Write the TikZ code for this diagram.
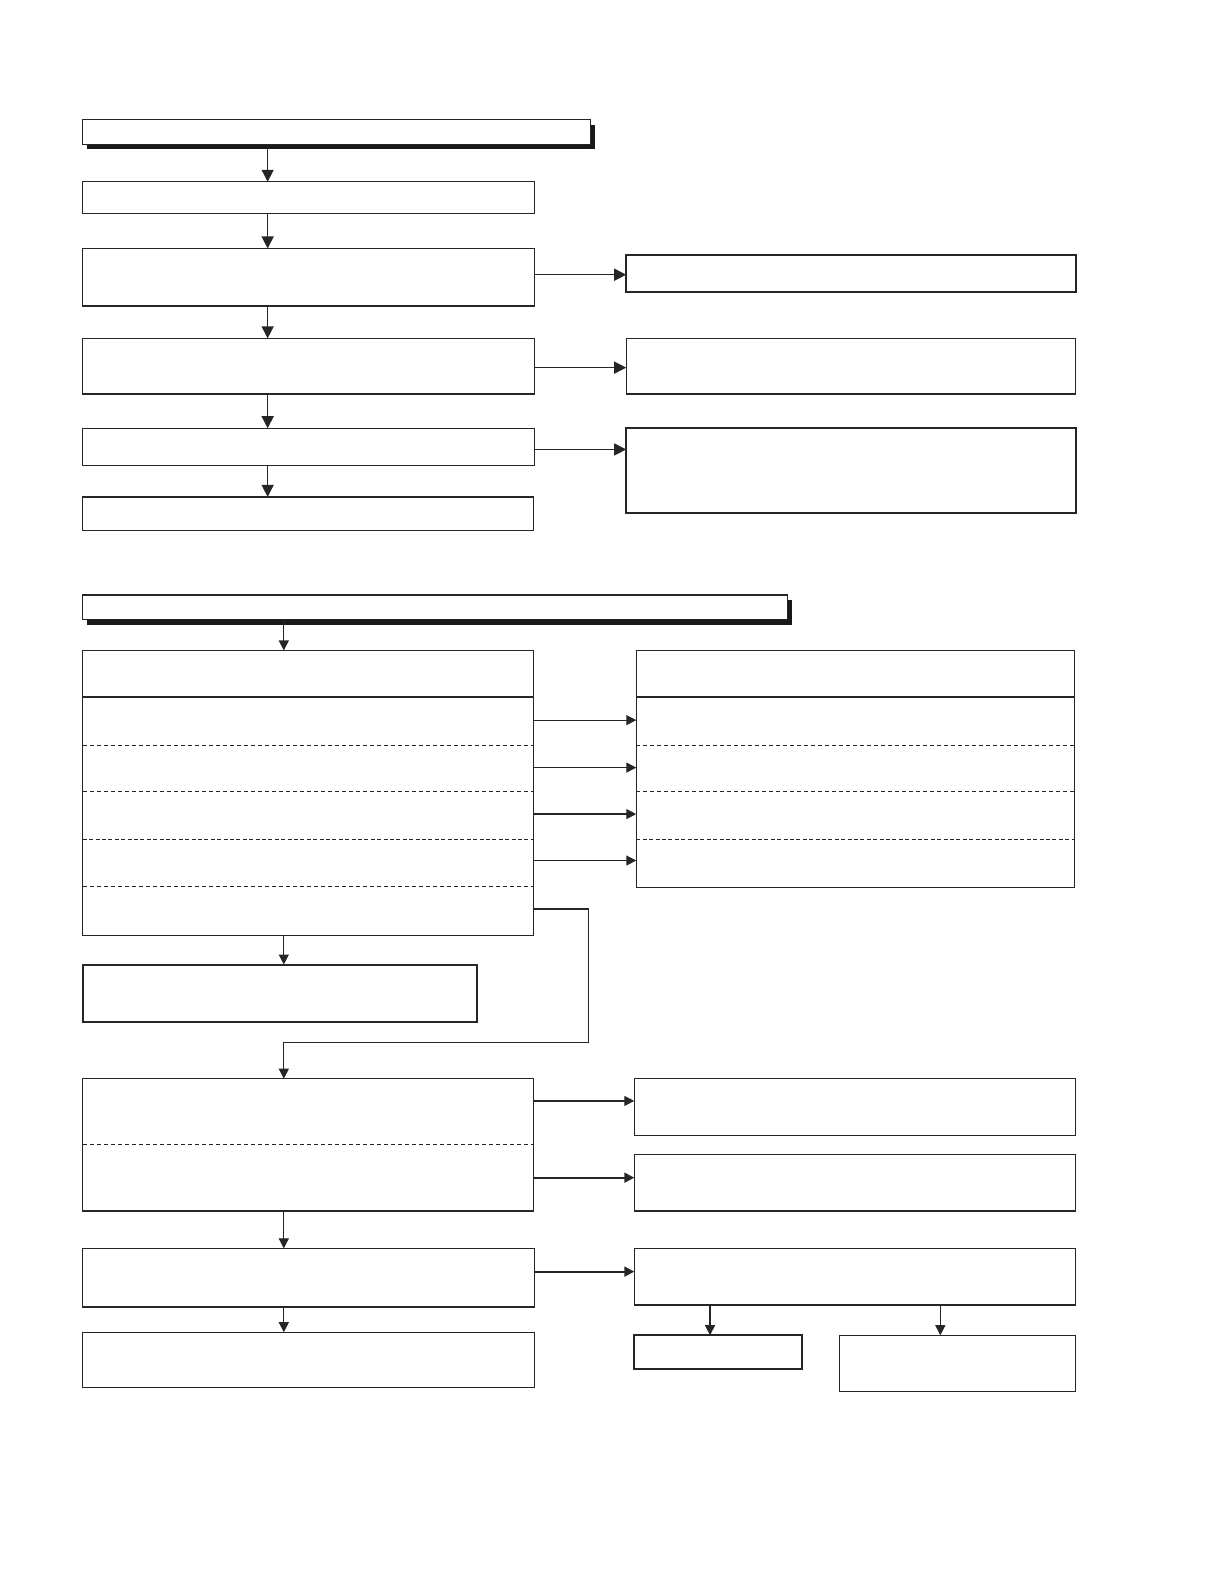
\documentclass[tikz,border=0pt]{standalone}
\usetikzlibrary{arrows.meta,calc}
\newcommand{\mybox}[6]{\node[#6,minimum width={(#4-#2)*0.505pt},minimum height={(#5-#3)*0.505pt}] (#1) at ({(#2+#4)/2},{(#3+#5)/2}) {};}
\tikzset{
  box/.style={draw=black!85,line width=0.6pt,fill=white,inner sep=0pt,outer sep=0pt,rectangle},
  thickbox/.style={box,line width=1pt},
  arr/.style={draw=black!85,line width=0.7pt,-{Triangle[length=6pt,width=6pt]}},
  arrs/.style={draw=black!85,line width=0.6pt,-{Triangle[length=5pt,width=5pt]}},
  arrb/.style={draw=black!85,line width=1pt,-{Triangle[length=5pt,width=5pt]}},
  sep/.style={draw=black!85,line width=0.5pt,dash pattern=on 2pt off 1.5pt},
  sepb/.style={draw=black!85,line width=0.8pt,dash pattern=on 2pt off 1.2pt},
  shadowfill/.style={fill=black!90}
}
\begin{document}
\begin{tikzpicture}[x=0.505pt,y=-0.505pt]
\useasboundingbox (0pt,0pt) rectangle (612pt,-792pt);
% ---------- section 1 ----------
\fill[shadowfill] (86,124) rectangle (589,148);
\mybox{H1}{82}{118}{585}{143}{box}
\mybox{B1}{82}{180}{529}{211}{box}
\mybox{B2}{82}{246}{529}{303}{box}
\mybox{B3}{82}{335}{529}{390}{box}
\mybox{B4}{82}{424}{529}{461}{box}
\mybox{B5}{82}{492}{528}{525}{box}
\mybox{R1}{620}{252}{1065}{289}{thickbox}
\mybox{R2}{620}{335}{1065}{390}{box}
\mybox{R3}{620}{424}{1065}{508}{thickbox}
\draw[arr] (H1.south -| 265,0) -- (B1.north -| 265,0);
\draw[arr] (B1.south -| 265,0) -- (B2.north -| 265,0);
\draw[arr] (B2.south -| 265,0) -- (B3.north -| 265,0);
\draw[arr] (B3.south -| 265,0) -- (B4.north -| 265,0);
\draw[arr] (B4.south -| 265,0) -- (B5.north -| 265,0);
\draw[arr] (B2.east |- 0,272) -- (R1.west |- 0,272);
\draw[arr] (B3.east |- 0,364) -- (R2.west |- 0,364);
\draw[arr] (B4.east |- 0,445) -- (R3.west |- 0,445);
% ---------- section 2 ----------
\fill[shadowfill] (86,594) rectangle (784,619);
\mybox{H2}{82}{589}{780}{613}{box}
\mybox{L1}{82}{644}{528}{926}{box}
\mybox{RB}{630}{644}{1064}{879}{box}
\draw[box] (L1.west |- 0,690) -- (L1.east |- 0,690);
\draw[sep] (L1.west |- 0,738) -- (L1.east |- 0,738);
\draw[sep] (L1.west |- 0,784) -- (L1.east |- 0,784);
\draw[sepb] (L1.west |- 0,831) -- (L1.east |- 0,831);
\draw[sep] (L1.west |- 0,878) -- (L1.east |- 0,878);
\draw[box] (RB.west |- 0,690) -- (RB.east |- 0,690);
\draw[sep] (RB.west |- 0,738) -- (RB.east |- 0,738);
\draw[sep] (RB.west |- 0,784) -- (RB.east |- 0,784);
\draw[sepb] (RB.west |- 0,831) -- (RB.east |- 0,831);
\draw[arrs] (H2.south -| 281,0) -- (L1.north -| 281,0);
\draw[arrs] (L1.east |- 0,713) -- (RB.west |- 0,713);
\draw[arrs] (L1.east |- 0,760) -- (RB.west |- 0,760);
\draw[arrs] (L1.east |- 0,806) -- (RB.west |- 0,806);
\draw[arrs] (L1.east |- 0,852) -- (RB.west |- 0,852);
\mybox{M1}{82}{955}{472}{1012}{thickbox}
\draw[arrs] (L1.south -| 281,0) -- (M1.north -| 281,0);
\mybox{L2}{82}{1068}{528}{1199}{box}
\draw[sep] (L2.west |- 0,1133) -- (L2.east |- 0,1133);
\coordinate (k1) at (583,900);
\coordinate (k2) at (583,1032);
\coordinate (k3) at (281,1032);
\draw[arrs] (L1.east |- k1) -- (k1) -- (k2) -- (k3) -- (L2.north -| k3);
\mybox{R4}{628}{1068}{1065}{1124}{box}
\mybox{R5}{628}{1143}{1065}{1199}{box}
\draw[arrs] (L2.east |- 0,1090) -- (R4.west |- 0,1090);
\draw[arrb] (L2.east |- 0,1166) -- (R5.west |- 0,1166);
\mybox{L3}{82}{1236}{529}{1294}{box}
\mybox{L4}{82}{1319}{529}{1374}{box}
\mybox{R6}{628}{1236}{1065}{1292}{box}
\draw[arrs] (L2.south -| 281,0) -- (L3.north -| 281,0);
\draw[arrs] (L3.south -| 281,0) -- (L4.north -| 281,0);
\draw[arrb] (L3.east |- 0,1259) -- (R6.west |- 0,1259);
\mybox{S1}{628}{1322}{794}{1355}{thickbox}
\mybox{S2}{831}{1322}{1065}{1378}{box}
\draw[arrs] (R6.south -| 703,0) -- (S1.north -| 703,0);
\draw[arrs] (R6.south -| 931,0) -- (S2.north -| 931,0);
\end{tikzpicture}
\end{document}
